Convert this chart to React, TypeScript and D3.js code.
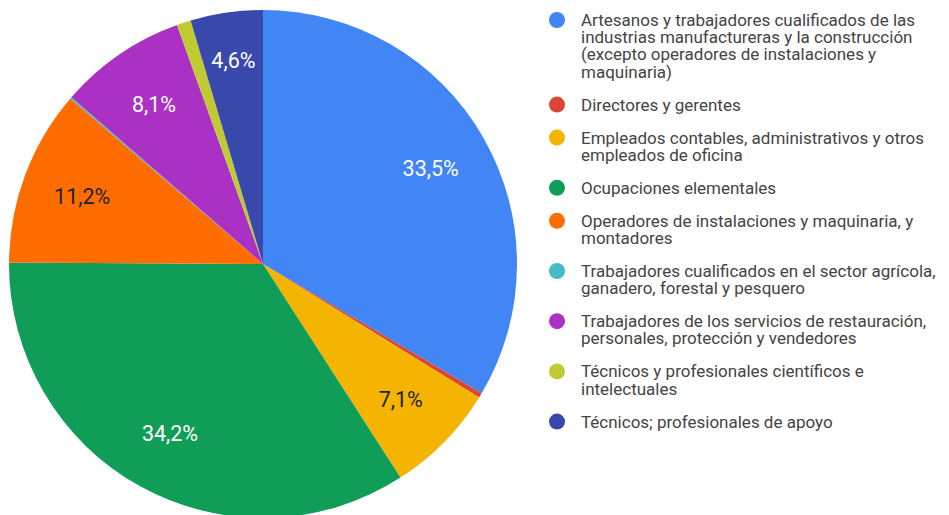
import { useEffect, useRef } from 'react';
import * as d3 from 'd3';

// Ocupaciones (orden de la leyenda y de las porciones, en sentido horario desde arriba)
const categories: string[][] = [
  ['Artesanos y trabajadores cualificados de las', 'industrias manufactureras y la construcción', '(excepto operadores de instalaciones y', 'maquinaria)'],
  ['Directores y gerentes'],
  ['Empleados contables, administrativos y otros', 'empleados de oficina'],
  ['Ocupaciones elementales'],
  ['Operadores de instalaciones y maquinaria, y', 'montadores'],
  ['Trabajadores cualificados en el sector agrícola,', 'ganadero, forestal y pesquero'],
  ['Trabajadores de los servicios de restauración,', 'personales, protección y vendedores'],
  ['Técnicos y profesionales científicos e', 'intelectuales'],
  ['Técnicos; profesionales de apoyo'],
];
const values = [33.5, 0.3, 7.1, 34.2, 11.2, 0.1, 8.1, 0.9, 4.6];
const colors = ['#4285f4', '#db4437', '#f4b400', '#0f9d58', '#ff6d00', '#46bdc6', '#ab30c4', '#c0ca33', '#3949ab'];
const darkLabel = ['#f4b400', '#ff6d00'];

function App() {
  const svgRef = useRef<SVGSVGElement>(null);

  useEffect(() => {
    if (!svgRef.current) return;
    const svg = d3.select(svgRef.current);
    svg.selectAll('*').remove();

    const cx = 263, cy = 264, radius = 254;
    const total = d3.sum(values);
    const labelSize = 21.5;

    const pie = d3.pie<number>().sort(null).value(d => d);
    const arcs = pie(values);
    const arc = d3.arc<d3.PieArcDatum<number>>().innerRadius(0).outerRadius(radius);

    const g = svg.append('g').attr('transform', `translate(${cx},${cy})`);

    g.selectAll('path')
      .data(arcs)
      .enter().append('path')
      .attr('d', arc)
      .attr('fill', (_, i) => colors[i]);

    const fmt = (v: number) => (v / total * 100).toFixed(1).replace('.', ',') + '%';

    // Etiquetas de porcentaje; se alejan del centro si la porción es estrecha
    const labelPos = (d: d3.PieArcDatum<number>) => {
      const w = fmt(d.value).length * 0.55 * labelSize;
      const span = d.endAngle - d.startAngle;
      const r = Math.max(radius * 0.76, (w * 1.25) / (2 * Math.sin(span / 2)));
      const mid = (d.startAngle + d.endAngle) / 2;
      return [r * Math.sin(mid), -r * Math.cos(mid)];
    };

    g.selectAll('text.pct')
      .data(arcs.filter(a => a.value / total >= 0.04))
      .enter().append('text')
      .attr('class', 'pct')
      .attr('x', d => labelPos(d)[0])
      .attr('y', d => labelPos(d)[1])
      .attr('text-anchor', 'middle')
      .attr('dy', '0.35em')
      .attr('font-family', 'Roboto, sans-serif')
      .attr('font-size', labelSize)
      .attr('fill', d => darkLabel.includes(colors[d.index]) ? '#222' : '#fff')
      .text(d => fmt(d.value));

    // Leyenda
    const legend = svg.append('g').attr('transform', 'translate(557,0)');
    const lineH = 17.2;
    const gap = 15.8;
    let y = 20;
    categories.forEach((lines, i) => {
      const item = legend.append('g').attr('transform', `translate(0,${y})`);
      item.append('circle').attr('r', 8).attr('fill', colors[i]);
      const t = item.append('text')
        .attr('x', 24)
        .attr('y', 6)
        .attr('font-family', 'Roboto, sans-serif')
        .attr('font-size', 17)
        .attr('fill', '#444');
      lines.forEach((line, j) => {
        t.append('tspan').attr('x', 24).attr('dy', j === 0 ? 0 : lineH).text(line);
      });
      y += lines.length * lineH + gap;
    });
  }, []);

  return (
    <div style={{ position: 'absolute', left: 0, top: 0 }}>
      <svg ref={svgRef} width={949} height={515} style={{ display: 'block', background: '#fff' }} />
    </div>
  );
}

export default App;
